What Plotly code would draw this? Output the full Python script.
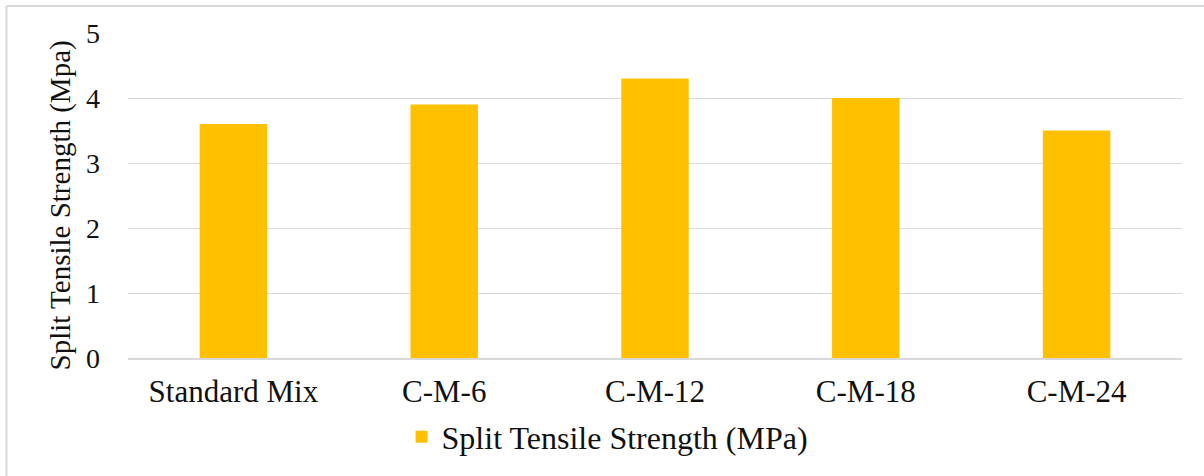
import plotly.graph_objects as go

categories = ["Standard Mix", "C-M-6", "C-M-12", "C-M-18", "C-M-24"]
strength = [3.6, 3.9, 4.3, 4.0, 3.5]
series_name = "Split Tensile Strength (MPa)"
y_title = "Split Tensile Strength (Mpa)"
y_ticks = [0, 1, 2, 3, 4, 5]

FONT = "Liberation Serif, Times New Roman, serif"
TXT = "#111111"

fig = go.Figure()
fig.add_trace(go.Bar(
    x=categories, y=strength, name=series_name,
    marker=dict(color="#FFC000", line=dict(width=0)),
    showlegend=True,
))

fig.update_layout(
    width=1204, height=476,
    margin=dict(l=128, r=22, t=33, b=118),
    paper_bgcolor="white", plot_bgcolor="white",
    font=dict(family=FONT, color=TXT),
    bargap=0.68,
    showlegend=True,
    legend=dict(orientation="h", x=0.455, xanchor="center", y=-0.243, yanchor="middle",
                font=dict(size=32, family=FONT, color=TXT)),
    shapes=[
        dict(type="line", xref="paper", yref="paper", x0=-0.1153, x1=-0.1153, y0=-0.4, y1=1.083,
             line=dict(color="#d9d9d9", width=2)),
        dict(type="line", xref="paper", yref="paper", x0=-0.1153, x1=1.03, y0=1.083, y1=1.083,
             line=dict(color="#d9d9d9", width=2)),
    ],
    annotations=[
        dict(text=y_title, xref="paper", yref="paper", x=-0.064, y=0.468,
             xanchor="center", yanchor="middle", textangle=-90, showarrow=False,
             font=dict(size=29, family=FONT, color=TXT)),
    ],
)
fig.update_xaxes(
    showgrid=False, showline=True, linecolor="#d9d9d9", linewidth=1.5,
    tickfont=dict(size=31, family=FONT, color=TXT),
    ticks="", ticklabelstandoff=5,
)
fig.update_yaxes(
    range=[0, 5], tickvals=y_ticks, showgrid=True, gridcolor="#d9d9d9", gridwidth=1,
    zeroline=False, showline=False,
    tickfont=dict(size=28, family=FONT, color=TXT),
    ticks="", ticklabelstandoff=27,
)

fig.write_html("out.html", config={"displayModeBar": False},
               post_script="document.body.style.margin='0';")
